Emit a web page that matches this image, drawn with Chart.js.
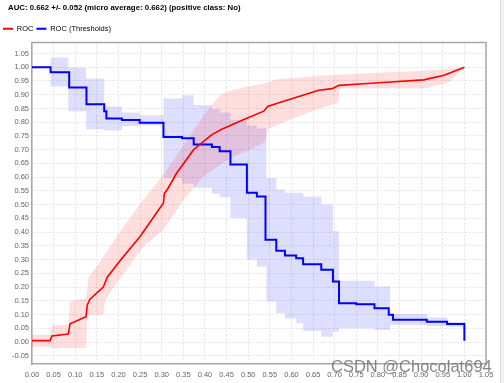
<!DOCTYPE html>
<html>
<head>
<meta charset="utf-8">
<title>ROC</title>
<script src="https://cdn.jsdelivr.net/npm/chart.js@4.4.1/dist/chart.umd.min.js"></script>
<style>
    html, body { margin: 0; padding: 0; background: #fff; }
    body { width: 504px; height: 383px; overflow: hidden; position: relative; font-family: "Liberation Sans", Arial, sans-serif; }
    #roc-chart { position: absolute; left: 0; top: 0; }
    #title { position: absolute; left: 8px; top: 3px; font-size: 7.8px; font-weight: bold; color: #000; white-space: nowrap; }
    #mark { position: absolute; left: 331px; top: 357px; font-size: 16.5px; color: rgba(105, 105, 105, 0.8); white-space: nowrap; }
    #edge { position: absolute; left: 500px; top: 0; width: 4px; height: 383px; background: #f1f1f1; border-left: 1px solid #e0e0e0; }
</style>
</head>
<body>
<canvas id="roc-chart" width="504" height="383"></canvas>
<div id="title">AUC: 0.662 +/- 0.052 (micro average: 0.662) (positive class: No)</div>
<div id="mark">CSDN @Chocolat694</div>
<div id="edge"></div>
<script>
// --------------------------------------------------
// Datos
// --------------------------------------------------
const legendNames = ['ROC', 'ROC (Thresholds)'];

const xTicks = [0, 0.05, 0.1, 0.15, 0.2, 0.25, 0.3, 0.35, 0.4, 0.45, 0.5, 0.55,
                0.6, 0.65, 0.7, 0.75, 0.8, 0.85, 0.9, 0.95, 1.0, 1.05];
const yTicks = [-0.05, 0, 0.05, 0.1, 0.15, 0.2, 0.25, 0.3, 0.35, 0.4, 0.45, 0.5,
                0.55, 0.6, 0.65, 0.7, 0.75, 0.8, 0.85, 0.9, 0.95, 1.0, 1.05];

// curva ROC (roja)
const rocX = [0, 0.042, 0.046, 0.084, 0.088, 0.125, 0.128, 0.134, 0.165, 0.174, 0.204, 0.25,
              0.304, 0.306, 0.313, 0.335, 0.374, 0.416, 0.439, 0.49, 0.536, 0.545, 0.571,
              0.621, 0.663, 0.694, 0.71, 0.767, 0.829, 0.906, 0.953, 1.0];
const rocY = [0.005, 0.005, 0.022, 0.029, 0.066, 0.092, 0.135, 0.156, 0.2, 0.236, 0.297, 0.384,
              0.506, 0.54, 0.555, 0.616, 0.70, 0.755, 0.774, 0.81, 0.84, 0.857, 0.871,
              0.895, 0.916, 0.922, 0.934, 0.94, 0.946, 0.954, 0.971, 1.0];

// banda de la ROC
const rocBandX    = [0, 0.042, 0.046, 0.084, 0.088, 0.125, 0.128, 0.13, 0.165, 0.169, 0.212, 0.258,
                     0.304, 0.35, 0.397, 0.435, 0.459, 0.49, 0.505, 0.54, 0.545, 0.567, 0.597,
                     0.66, 0.708, 0.712, 0.906, 0.953, 0.968, 1.0];
const rocBandHigh = [0.026, 0.026, 0.062, 0.062, 0.147, 0.16, 0.2, 0.232, 0.31, 0.32, 0.42, 0.52,
                     0.61, 0.715, 0.825, 0.9, 0.915, 0.926, 0.932, 0.942, 0.945, 0.956, 0.96,
                     0.968, 0.973, 0.974, 0.987, 0.993, 0.995, 1.0];
const rocBandLow  = [-0.017, -0.017, -0.022, -0.022, -0.022, -0.022, 0.099, 0.099, 0.099, 0.153, 0.25, 0.348,
                     0.409, 0.515, 0.603, 0.645, 0.67, 0.69, 0.70, 0.73, 0.774, 0.79, 0.81,
                     0.847, 0.871, 0.923, 0.923, 0.94, 0.95, 1.0];

// curva de umbrales (azul, escalonada: cada valor vale hasta el siguiente x)
const thrX = [0, 0.043, 0.086, 0.126, 0.167, 0.172, 0.208, 0.249, 0.304, 0.347, 0.374, 0.416,
              0.434, 0.459, 0.497, 0.52, 0.54, 0.565, 0.585, 0.611, 0.627, 0.669, 0.696,
              0.71, 0.75, 0.792, 0.825, 0.835, 0.913, 0.96, 1.0];
const thrY = [1.0, 0.982, 0.926, 0.865, 0.84, 0.813, 0.808, 0.798, 0.746, 0.742, 0.719, 0.71,
              0.694, 0.646, 0.543, 0.53, 0.372, 0.332, 0.315, 0.305, 0.283, 0.263, 0.22,
              0.141, 0.137, 0.123, 0.099, 0.081, 0.074, 0.066, 0.005];

// banda de umbrales
const thrBandX    = [0, 0.043, 0.084, 0.125, 0.167, 0.208, 0.249, 0.304, 0.347, 0.374, 0.416, 0.434,
                     0.459, 0.497, 0.52, 0.542, 0.565, 0.585, 0.611, 0.627, 0.669, 0.696, 0.71,
                     0.792, 0.828, 0.914, 0.96, 1.0];
const thrBandHigh = [1.0, 1.035, 0.999, 0.959, 0.857, 0.835, 0.825, 0.886, 0.898, 0.863, 0.848, 0.835,
                     0.809, 0.788, 0.778, 0.597, 0.555, 0.543, 0.543, 0.53, 0.5, 0.403, 0.223,
                     0.202, 0.102, 0.089, 0.074, 0.074];
const thrBandLow  = [1.0, 0.93, 0.84, 0.774, 0.77, 0.786, 0.788, 0.597, 0.576, 0.561, 0.54, 0.527,
                     0.451, 0.3, 0.275, 0.147, 0.105, 0.086, 0.068, 0.04, 0.019, 0.038, 0.05,
                     0.044, 0.062, 0.058, 0.056, 0.056];

const RED = '#ff0000';
const BLUE = '#0000ff';

function toPoints(xs, ys) {
    return xs.map(function(x, i) { return { x: x, y: ys[i] }; });
}

// marco superior y derecho del área del gráfico
const framePlugin = {
    id: 'frame',
    afterDraw: function(chart) {
        const a = chart.chartArea;
        const ctx = chart.ctx;
        ctx.save();
        ctx.strokeStyle = '#a8a8a8';
        ctx.lineWidth = 1.5;
        ctx.beginPath();
        ctx.moveTo(a.left, a.top);
        ctx.lineTo(a.right, a.top);
        ctx.lineTo(a.right, a.bottom);
        ctx.stroke();
        ctx.restore();
    }
};

const bandBase = { pointRadius: 0, borderWidth: 0, borderColor: 'rgba(0,0,0,0)', tension: 0 };

new Chart(document.getElementById('roc-chart'), {
    type: 'line',
    data: {
        datasets: [
            Object.assign({ label: 'thr-low',  data: toPoints(thrBandX, thrBandLow),  stepped: 'before', fill: false, order: 3 }, bandBase),
            Object.assign({ label: 'thr-high', data: toPoints(thrBandX, thrBandHigh), stepped: 'before', fill: '-1',
                            backgroundColor: 'rgba(0, 0, 255, 0.13)', order: 3 }, bandBase),
            Object.assign({ label: 'roc-low',  data: toPoints(rocBandX, rocBandLow),  fill: false, order: 2 }, bandBase),
            Object.assign({ label: 'roc-high', data: toPoints(rocBandX, rocBandHigh), fill: '-1',
                            backgroundColor: 'rgba(255, 0, 0, 0.13)', order: 2 }, bandBase),
            {
                label: legendNames[1],
                data: toPoints(thrX, thrY),
                stepped: 'before',
                borderColor: BLUE,
                backgroundColor: BLUE,
                borderWidth: 2,
                pointRadius: 0,
                fill: false,
                order: 1
            },
            {
                label: legendNames[0],
                data: toPoints(rocX, rocY),
                borderColor: RED,
                backgroundColor: RED,
                borderWidth: 1.6,
                pointRadius: 0,
                tension: 0,
                fill: false,
                order: 0
            }
        ]
    },
    options: {
        responsive: false,
        animation: false,
        events: [],
        layout: { padding: { left: 0, right: 18, top: 22, bottom: 0 } },
        plugins: {
            title: { display: false },
            tooltip: { enabled: false },
            legend: {
                display: true,
                position: 'top',
                align: 'start',
                labels: {
                    boxWidth: 10,
                    boxHeight: 2,
                    padding: 3,
                    color: '#7a7a7a',
                    font: { family: '"Liberation Sans", Arial, sans-serif', size: 7.5 },
                    generateLabels: function() {
                        return [
                            { text: legendNames[0], fillStyle: RED, strokeStyle: RED, lineWidth: 0, hidden: false, datasetIndex: 5 },
                            { text: legendNames[1], fillStyle: BLUE, strokeStyle: BLUE, lineWidth: 0, hidden: false, datasetIndex: 4 }
                        ];
                    }
                }
            }
        },
        scales: {
            x: {
                type: 'linear',
                min: 0,
                max: 1.05,
                afterBuildTicks: function(s) { s.ticks = xTicks.map(function(v) { return { value: v }; }); },
                afterFit: function(s) { s.height = 19; s.paddingLeft = 0; s.paddingRight = 0; },
                ticks: {
                    callback: function(v) { return v.toFixed(2); },
                    color: '#666',
                    font: { family: '"Liberation Sans", Arial, sans-serif', size: 7.5 },
                    maxRotation: 0,
                    autoSkip: false,
                    padding: 6
                },
                grid: { color: '#e2e2e2', drawTicks: false },
                border: { display: true, color: '#a8a8a8', width: 1.5, dash: [2, 2] }
            },
            y: {
                type: 'linear',
                min: -0.08,
                max: 1.09,
                afterBuildTicks: function(s) { s.ticks = yTicks.map(function(v) { return { value: v }; }); },
                afterFit: function(s) { s.width = 32; s.paddingTop = 0; s.paddingBottom = 0; },
                ticks: {
                    callback: function(v) { return v.toFixed(2); },
                    color: '#666',
                    font: { family: '"Liberation Sans", Arial, sans-serif', size: 7.5 },
                    autoSkip: false,
                    padding: 3
                },
                grid: { color: '#e2e2e2', drawTicks: false },
                border: { display: true, color: '#a8a8a8', width: 1.5, dash: [2, 2] }
            }
        }
    },
    plugins: [framePlugin]
});
</script>
</body>
</html>
